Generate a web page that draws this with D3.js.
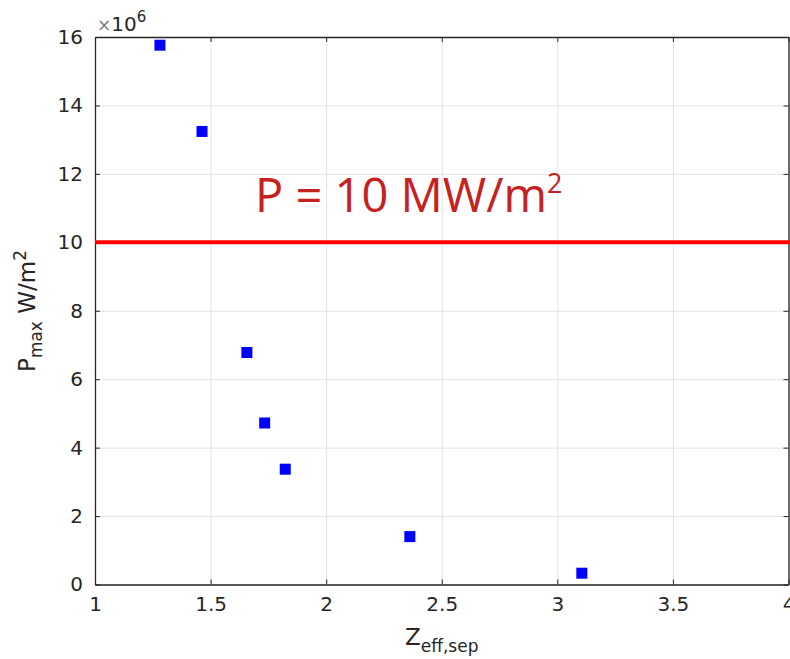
<!DOCTYPE html>
<html>
<head>
<meta charset="utf-8">
<script src="https://cdn.jsdelivr.net/npm/d3@7"></script>
<style>
  body { margin: 0; background: #fff; }
  .tick text { font-family: "DejaVu Sans", sans-serif; font-size: 20px; fill: #262626; }
  .axis path, .axis line { stroke: #262626; }
  .grid line { stroke: #e3e3e3; }
  .grid path { display: none; }
</style>
</head>
<body>
<div id="chart"></div>
<script>
// Data (P_max in units of 10^6 W/m^2)
var zeffValues = [1.281, 1.463, 1.657, 1.734, 1.823, 2.362, 3.106];
var pmaxValues = [15.76, 13.24, 6.78, 4.72, 3.37, 1.40, 0.33];
var xTicks = [1, 1.5, 2, 2.5, 3, 3.5, 4];
var yTicks = [0, 2, 4, 6, 8, 10, 12, 14, 16];
var limitValue = 10;

// SVG area
var svgWidth = 790;
var svgHeight = 659;

var margin = {
  top: 37,
  right: 1.5,
  bottom: 74.5,
  left: 95
};

var chartWidth = svgWidth - margin.left - margin.right;
var chartHeight = svgHeight - margin.top - margin.bottom;

var svg = d3.select("#chart")
  .append("svg")
  .attr("width", svgWidth)
  .attr("height", svgHeight);

var chartGroup = svg.append("g")
  .attr("transform", `translate(${margin.left}, ${margin.top})`);

// Scales
var xLinearScale = d3.scaleLinear()
  .domain([1, 4])
  .range([0, chartWidth]);

var yLinearScale = d3.scaleLinear()
  .domain([0, 16])
  .range([chartHeight, 0]);

// Grid lines
chartGroup.append("g")
  .classed("grid", true)
  .attr("transform", `translate(0, ${chartHeight})`)
  .call(d3.axisBottom(xLinearScale).tickValues(xTicks).tickSize(-chartHeight).tickFormat(""));

chartGroup.append("g")
  .classed("grid", true)
  .call(d3.axisLeft(yLinearScale).tickValues(yTicks).tickSize(-chartWidth).tickFormat(""));

// Axes (ticks pointing inward, MATLAB style box)
var bottomAxis = d3.axisBottom(xLinearScale)
  .tickValues(xTicks)
  .tickSizeInner(-5)
  .tickSizeOuter(0)
  .tickPadding(12)
  .tickFormat(d => d);

var leftAxis = d3.axisLeft(yLinearScale)
  .tickValues(yTicks)
  .tickSizeInner(-5)
  .tickSizeOuter(0)
  .tickPadding(12)
  .tickFormat(d => d);

chartGroup.append("g")
  .classed("axis", true)
  .attr("transform", `translate(0, ${chartHeight})`)
  .call(bottomAxis);

chartGroup.append("g")
  .classed("axis", true)
  .call(leftAxis);

chartGroup.append("g")
  .classed("axis", true)
  .call(d3.axisTop(xLinearScale).tickValues(xTicks).tickSizeInner(-5).tickSizeOuter(0).tickFormat(""));

chartGroup.append("g")
  .classed("axis", true)
  .attr("transform", `translate(${chartWidth}, 0)`)
  .call(d3.axisRight(yLinearScale).tickValues(yTicks).tickSizeInner(-5).tickSizeOuter(0).tickFormat(""));

chartGroup.selectAll(".axis path").attr("stroke-width", 1.3);

// Limit line at 10 MW/m^2
chartGroup.append("line")
  .attr("x1", 0)
  .attr("x2", chartWidth + margin.right)
  .attr("y1", yLinearScale(limitValue))
  .attr("y2", yLinearScale(limitValue))
  .attr("stroke", "#ff0000")
  .attr("stroke-width", 4);

var limitLabel = chartGroup.append("text")
  .attr("x", 255 - margin.left)
  .attr("y", 212 - margin.top)
  .attr("fill", "#c8201f")
  .style("font-family", "'Open Sans', sans-serif")
  .style("font-size", "47px");
limitLabel.append("tspan").text("P = 10 MW/m");
limitLabel.append("tspan").attr("dy", -19).style("font-size", "27px").text("2");

// Data points
var size = 11;
chartGroup.selectAll("rect.point")
  .data(zeffValues)
  .enter()
  .append("rect")
  .classed("point", true)
  .attr("x", d => xLinearScale(d) - size / 2)
  .attr("y", (d, i) => yLinearScale(pmaxValues[i]) - size / 2)
  .attr("width", size)
  .attr("height", size)
  .attr("fill", "#0000ff");

// Exponent label
var expLabel = chartGroup.append("text")
  .attr("x", 2)
  .attr("y", -6)
  .style("font-family", "'DejaVu Sans', sans-serif")
  .style("font-size", "20px")
  .attr("fill", "#262626");
expLabel.append("tspan").attr("fill", "#808080").style("font-size", "17px").text("\u00d7");
expLabel.append("tspan").text("10");
expLabel.append("tspan").attr("dy", -9).style("font-size", "15px").text("6");

// Axis titles
var xTitle = chartGroup.append("text")
  .attr("x", chartWidth / 2)
  .attr("y", chartHeight + 60)
  .attr("text-anchor", "middle")
  .attr("fill", "#262626")
  .style("font-family", "'DejaVu Sans', sans-serif")
  .style("font-size", "23px");
xTitle.append("tspan").text("Z");
xTitle.append("tspan").attr("dy", 7).style("font-size", "17px").text("eff,sep");

var yTitle = chartGroup.append("text")
  .attr("transform", `translate(${35 - margin.left}, ${311 - margin.top}) rotate(-90)`)
  .attr("text-anchor", "middle")
  .attr("fill", "#262626")
  .style("font-family", "'DejaVu Sans', sans-serif")
  .style("font-size", "23px");
yTitle.append("tspan").text("P");
yTitle.append("tspan").attr("dy", 7).style("font-size", "17px").text("max");
yTitle.append("tspan").attr("dy", -7).text(" W/m");
yTitle.append("tspan").attr("dy", -9).style("font-size", "17px").text("2");
</script>
</body>
</html>
